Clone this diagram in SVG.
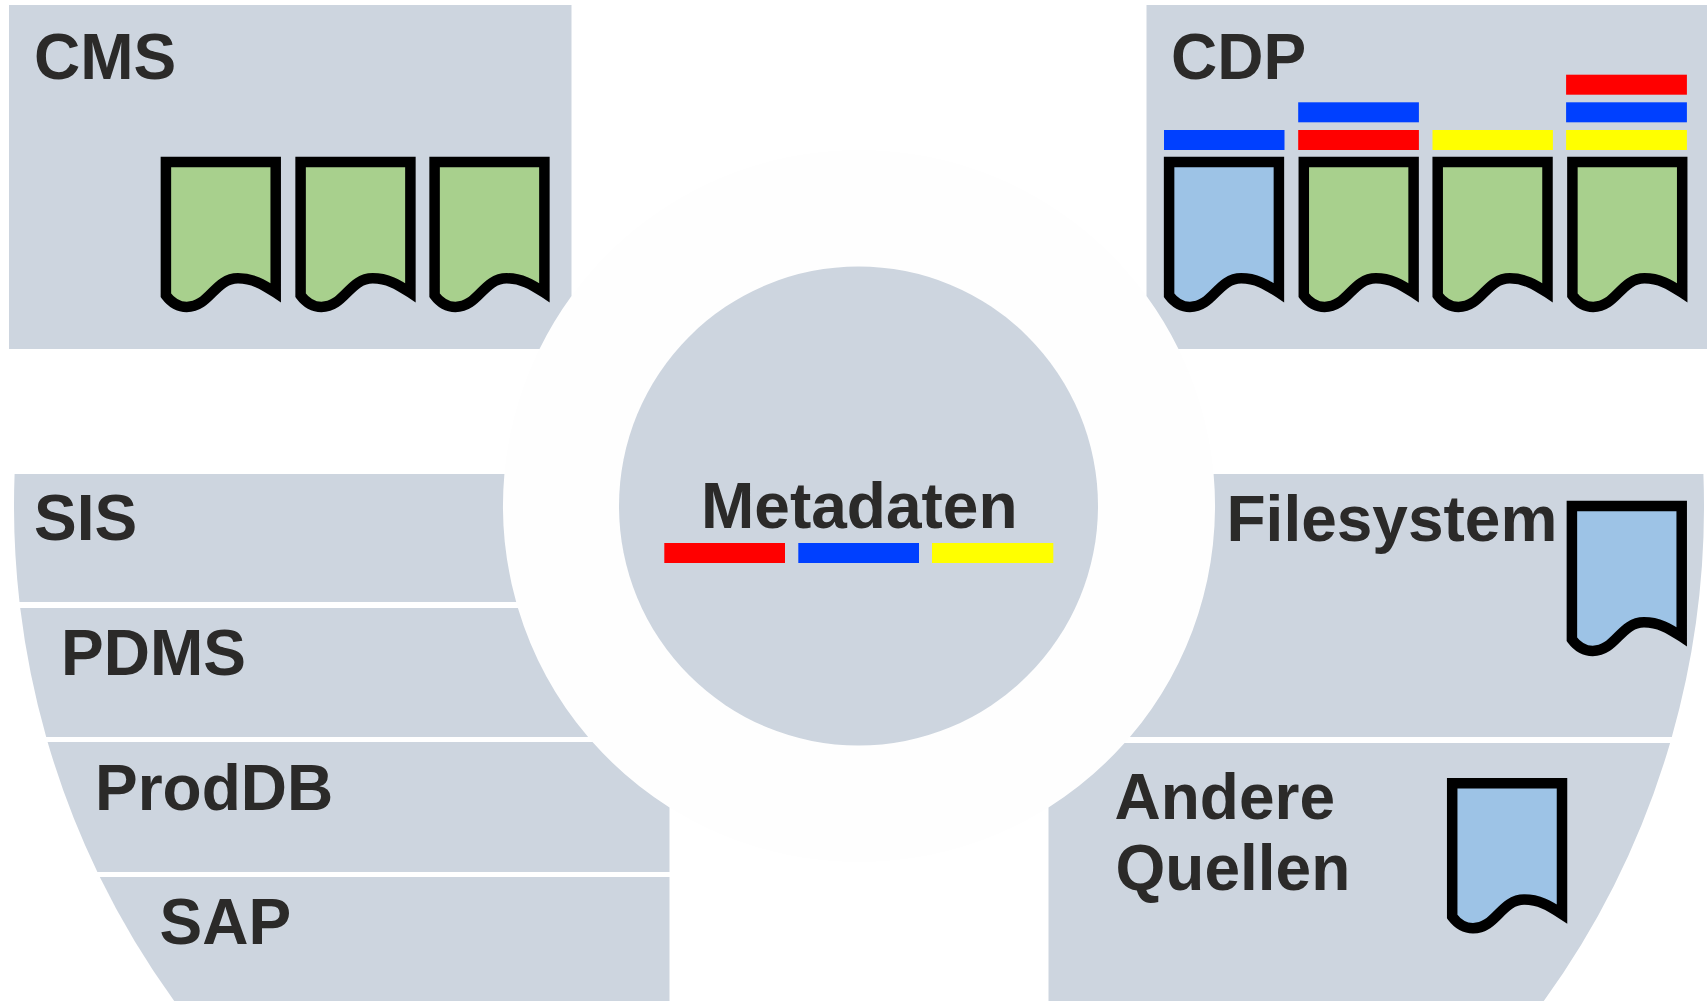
<svg xmlns="http://www.w3.org/2000/svg" width="1707" height="1001" viewBox="0 0 1707 1001">
<style>
.p{fill:#cdd5df}
.t{font-family:"Liberation Sans",Arial,sans-serif;font-weight:700;font-size:64px;fill:#2b2a29}
.d{stroke:#000;stroke-width:10.500;stroke-miterlimit:10}
.g{fill:#a8d08d}.b{fill:#9dc3e6}
.r{fill:#ff0000}.u{fill:#0040ff}.y{fill:#ffff00}
</style>
<defs>
<path id="doc" d="M5.200 5.200H115V136C102 127.500 92 121.600 77.300 121.600C54 121.600 49 150.200 26 150.200C16 150.200 10 145 5.200 138.600Z"/>
</defs>
<rect width="1707" height="1001" fill="#fff"/>
<circle cx="859" cy="506" r="356" fill="#fefefe"/>
<g id="cms">
<path class="p" d="M9 5H571.500V296A356 356 0 0 0 539.500 349H9Z"/>
<text class="t" x="34" y="79">CMS</text>
<use href="#doc" class="d g" x="160.700" y="156.700"/>
<use href="#doc" class="d g" x="295.400" y="156.700"/>
<use href="#doc" class="d g" x="429.400" y="156.700"/>
</g>
<g id="cdp">
<path class="p" d="M1146.500 5H1707V349H1178.500A356 356 0 0 0 1146.500 296Z"/>
<text class="t" x="1171" y="79">CDP</text>
<rect class="u" x="1164" y="130" width="120.500" height="20"/>
<rect class="u" x="1298.200" y="102.300" width="120.700" height="20"/>
<rect class="r" x="1298.200" y="130" width="120.700" height="20"/>
<rect class="y" x="1432.500" y="130" width="120.400" height="20"/>
<rect class="r" x="1566.100" y="74.700" width="120.800" height="20"/>
<rect class="u" x="1566.100" y="102.300" width="120.800" height="20"/>
<rect class="y" x="1566.100" y="130" width="120.800" height="20"/>
<use href="#doc" class="d b" x="1163.900" y="156.700"/>
<use href="#doc" class="d g" x="1298.600" y="156.700"/>
<use href="#doc" class="d g" x="1432.500" y="156.700"/>
<use href="#doc" class="d g" x="1567.200" y="156.700"/>
</g>
<g id="sis">
<path class="p" d="M14.600 474H504.400A356 356 0 0 0 516.200 602H19.500A845 845 0 0 1 14.600 474Z"/>
<text class="t" x="34" y="540">SIS</text>
</g>
<g id="pdms">
<path class="p" d="M20.200 608H517.900A356 356 0 0 0 588.100 737H46.200A845 845 0 0 1 20.200 608Z"/>
<text class="t" x="61" y="675">PDMS</text>
</g>
<g id="proddb">
<path class="p" d="M47.600 742H592.500A356 356 0 0 0 669.500 807.400V872H97.400A845 845 0 0 1 47.600 742Z"/>
<text class="t" x="95" y="810">ProdDB</text>
</g>
<g id="sap">
<path class="p" d="M99.800 877H669.500V1001H174.200A845 845 0 0 1 99.800 877Z"/>
<text class="t" x="159.500" y="944">SAP</text>
</g>
<g id="filesystem">
<path class="p" d="M1213.600 474H1703.400A845 845 0 0 1 1671.800 737H1129.900A356 356 0 0 0 1213.600 474Z"/>
<text class="t" x="1226.500" y="541">Filesystem</text>
<use href="#doc" class="d b" x="1566.700" y="500.700"/>
</g>
<g id="andere-quellen">
<path class="p" d="M1124.600 743H1670.100A845 845 0 0 1 1543.800 1001H1048.500V807.400A356 356 0 0 0 1124.600 743Z"/>
<text class="t" x="1114.500" y="818.600">Andere</text>
<text class="t" x="1115.500" y="890">Quellen</text>
<use href="#doc" class="d b" x="1447" y="778"/>
</g>
<g id="metadaten">
<circle class="p" cx="858.500" cy="506" r="239.500"/>
<text class="t" x="701" y="528.300">Metadaten</text>
<rect class="r" x="664.300" y="543" width="120.700" height="20"/>
<rect class="u" x="798.300" y="543" width="120.700" height="20"/>
<rect class="y" x="932" y="543" width="121.300" height="20"/>
</g>
</svg>
